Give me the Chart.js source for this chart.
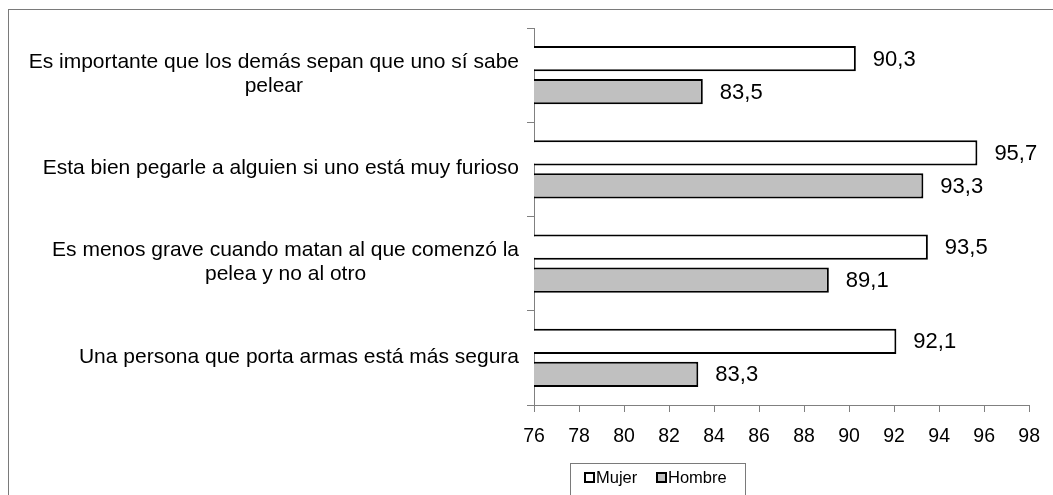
<!DOCTYPE html>
<html><head><meta charset="utf-8">
<script src="https://cdn.jsdelivr.net/npm/chart.js@4"></script>
<style>html,body{margin:0;padding:0;background:#fff}#wrap{width:1053px;height:495px;position:relative}</style>
</head><body><div id="wrap"><canvas id="c" width="1053" height="495"></canvas></div>
<script>
const categories = [
  ["Es importante que los demás sepan que uno sí sabe", "pelear"],
  ["Esta bien pegarle a alguien si uno está muy furioso"],
  ["Es menos grave cuando matan al que comenzó la", "pelea y no al otro"],
  ["Una persona que porta armas está más segura"]
];
const seriesNames = ["Mujer", "Hombre"];
const mujer = [90.3, 95.7, 93.5, 92.1];
const hombre = [83.5, 93.3, 89.1, 83.3];
const xTicks = [76, 78, 80, 82, 84, 86, 88, 90, 92, 94, 96, 98];

const FONT = "'Liberation Sans', Arial, sans-serif";
const fmt = v => v.toFixed(1).replace('.', ',');

const drawPlugin = {
  id: 'extras',
  afterDraw(chart) {
    const ctx = chart.ctx;
    const ca = chart.chartArea;
    const yS = chart.scales.y;
    ctx.save();
    // category labels
    ctx.fillStyle = '#000';
    ctx.font = "21px " + FONT;
    ctx.textBaseline = 'middle';
    ctx.textAlign = 'center';
    const lh = 24;
    categories.forEach((lines, i) => {
      const cy = yS.getPixelForTick(i);
      let w = 0;
      lines.forEach(l => { w = Math.max(w, ctx.measureText(l).width); });
      const cx = ca.left - 15 - w / 2;
      const y0 = cy - (lines.length - 1) * lh / 2 - 1;
      lines.forEach((l, k) => ctx.fillText(l, cx, y0 + k * lh));
    });
    // data labels
    ctx.font = "22px " + FONT;
    ctx.textAlign = 'left';
    chart.data.datasets.forEach((ds, di) => {
      const meta = chart.getDatasetMeta(di);
      meta.data.forEach((bar, i) => {
        ctx.fillText(fmt(ds.data[i]), bar.x + 17, bar.y + 1);
      });
    });
    // outer border
    ctx.strokeStyle = '#7a7a7a';
    ctx.lineWidth = 1;
    ctx.strokeRect(8.5, 9.5, 1045, 500);
    // legend
    const lx = 570.5, ly = 463.5;
    ctx.strokeRect(lx, ly, 175, 50);
    ctx.font = "16.5px " + FONT;
    ctx.textBaseline = 'middle';
    const fills = [chart.data.datasets[0].backgroundColor, chart.data.datasets[1].backgroundColor];
    const items = [[585, 596], [657, 668]];
    seriesNames.forEach((n, k) => {
      const [sx, tx] = items[k];
      ctx.fillStyle = fills[k];
      ctx.fillRect(sx, 473, 9, 9);
      ctx.strokeStyle = '#000';
      ctx.lineWidth = 2;
      ctx.strokeRect(sx, 473, 9, 9);
      ctx.fillStyle = '#000';
      ctx.fillText(n, tx, 478);
    });
    ctx.restore();
  }
};

new Chart(document.getElementById('c'), {
  type: 'bar',
  data: {
    labels: categories.map(l => l.join(' ')),
    datasets: [
      { label: seriesNames[0], data: mujer, backgroundColor: '#ffffff', borderColor: '#000000', borderWidth: 2, borderSkipped: false, barPercentage: 0.76, categoryPercentage: 0.70 },
      { label: seriesNames[1], data: hombre, backgroundColor: '#c0c0c0', borderColor: '#000000', borderWidth: 2, borderSkipped: false, barPercentage: 0.76, categoryPercentage: 0.70 }
    ]
  },
  options: {
    indexAxis: 'y',
    responsive: false,
    animation: false,
    devicePixelRatio: 1,
    layout: { padding: { top: 28, right: 20, left: 0, bottom: 0 } },
    plugins: { legend: { display: false }, tooltip: { enabled: false } },
    scales: {
      x: {
        type: 'linear', min: 76, max: 98,
        afterBuildTicks: s => { s.ticks = xTicks.map(v => ({ value: v })); },
        afterFit: s => { s.height = 90; },
        ticks: { color: '#000', font: { family: FONT, size: 19.5 }, padding: 13 },
        grid: { drawOnChartArea: false, drawTicks: true, tickLength: 7, color: '#808080' },
        border: { color: '#808080', width: 1 }
      },
      y: {
        type: 'category',
        afterFit: s => { s.width = 534; },
        ticks: { display: false },
        grid: { offset: true, drawOnChartArea: false, drawTicks: true, tickLength: 7, color: '#808080' },
        border: { color: '#808080', width: 1 }
      }
    }
  },
  plugins: [drawPlugin]
});
</script>
</body></html>
